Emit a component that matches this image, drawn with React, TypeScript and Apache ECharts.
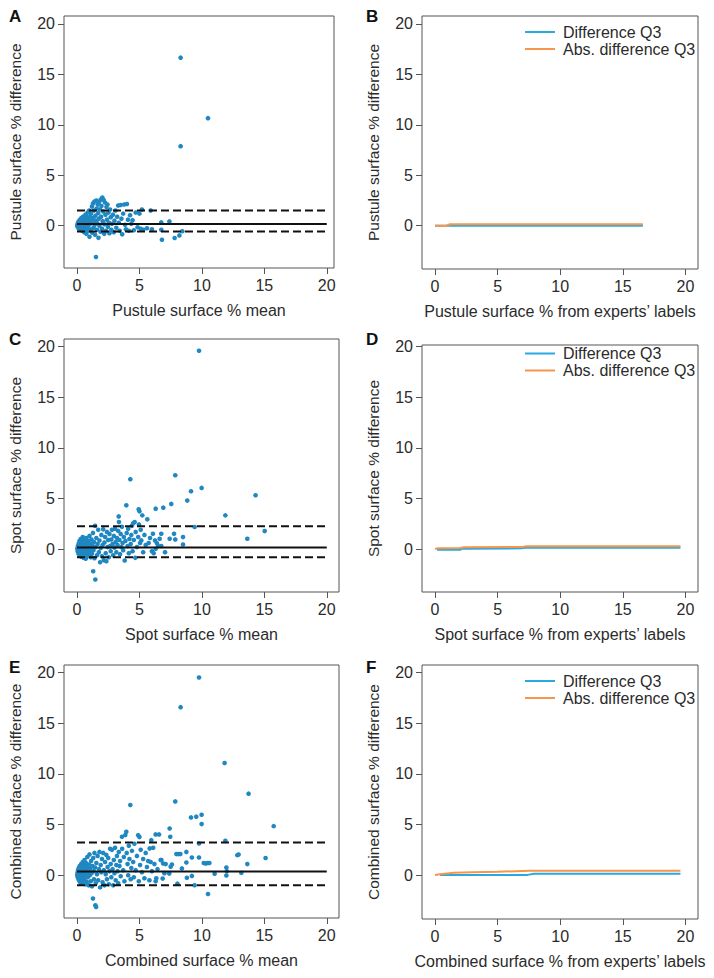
import React, { useEffect, useRef } from "react";
import * as echarts from "echarts";

// ---------------- DATA ----------------
const panelLetters = ["A", "B", "C", "D", "E", "F"];
const xTitles = [
  "Pustule surface % mean",
  "Pustule surface % from experts\u2019 labels",
  "Spot surface % mean",
  "Spot surface % from experts\u2019 labels",
  "Combined surface % mean",
  "Combined surface % from experts\u2019 labels",
];
const yTitles = [
  "Pustule surface % difference",
  "Pustule surface % difference",
  "Spot surface % difference",
  "Spot surface % difference",
  "Combined surface % difference",
  "Combined surface % difference",
];
const tickValues = [0, 5, 10, 15, 20];
const refLineSpan = [0, 20];
const legendNames = ["Difference Q3", "Abs. difference Q3"];

// Bland-Altman: [mean, upper limit, lower limit]
const limitsA = [0.17, 1.52, -0.56];
const limitsC = [0.17, 2.25, -0.79];
const limitsE = [0.37, 3.23, -0.99];

const scatterA = [
  [0.02,0.0],[0.05,0.15],[0.06,-0.1],[0.08,0.3],[0.1,0.05],[0.12,-0.25],[0.14,0.45],[0.16,0.1],[0.18,-0.05],[0.2,0.25],
  [0.22,-0.4],[0.24,0.6],[0.26,0.0],[0.28,0.2],[0.3,-0.15],[0.32,0.4],[0.34,0.75],[0.36,-0.3],[0.38,0.1],[0.4,0.55],
  [0.42,-0.5],[0.44,0.3],[0.46,0.0],[0.48,0.9],[0.5,-0.2],[0.52,0.45],[0.55,0.15],[0.58,-0.65],[0.6,0.7],[0.62,0.25],
  [0.65,-0.35],[0.68,1.1],[0.7,0.05],[0.72,0.5],[0.75,-0.8],[0.78,0.3],[0.8,0.85],[0.83,-0.15],[0.86,1.3],[0.88,0.4],
  [0.9,-0.5],[0.93,0.65],[0.96,0.1],[0.98,1.5],[1.0,-1.1],[1.03,0.9],[1.06,0.2],[1.1,-0.35],[1.12,1.2],[1.15,0.55],
  [1.2,1.9],[1.22,-0.7],[1.25,0.35],[1.28,2.2],[1.3,0.8],[1.33,-0.2],[1.36,1.5],[1.4,2.4],[1.42,0.1],[1.45,-0.9],
  [1.48,1.0],[1.5,0.5],[1.52,-3.1],[1.55,2.5],[1.58,1.7],[1.6,-0.4],[1.63,0.25],[1.66,2.1],[1.7,1.25],[1.72,-1.2],
  [1.75,0.7],[1.78,2.35],[1.8,0.0],[1.84,1.6],[1.88,-0.6],[1.9,2.6],[1.93,0.9],[1.96,1.95],[2.0,-0.3],[2.03,2.8],
  [2.06,0.45],[2.1,1.4],[2.14,2.55],[2.18,-0.8],[2.2,0.15],[2.24,2.3],[2.28,1.1],[2.32,-0.5],[2.36,1.85],[2.4,0.6],
  [2.44,2.1],[2.48,-0.1],[2.52,1.3],[2.56,0.3],[2.6,-0.75],[2.65,1.6],[2.7,0.85],[2.75,-0.4],[2.8,0.2],[2.88,1.1],
  [2.95,-0.65],[3.0,0.5],[3.08,1.5],[3.15,-0.2],[3.22,0.9],[3.3,2.0],[3.35,0.3],[3.42,-0.5],[3.5,2.05],[3.56,0.7],
  [3.62,-0.85],[3.7,1.2],[3.78,2.1],[3.85,0.1],[3.92,-0.35],[4.0,2.15],[4.08,0.6],[4.15,-0.5],[4.25,1.05],[4.35,0.2],
  [4.45,0.55],[4.55,-0.45],[4.7,1.3],[4.85,-0.15],[5.0,1.2],[5.1,-0.3],[5.2,1.6],[5.3,-0.4],[5.6,-0.25],[5.9,1.5],
  [6.0,-0.35],[6.75,0.33],[6.75,-0.4],[6.8,-1.39],[7.4,0.43],[7.82,-1.22],[8.2,-0.96],[8.43,-0.55],[8.3,16.66],[8.3,7.89],
  [10.49,10.66],
];

const scatterC = [
  [0.02,0.05],[0.05,-0.2],[0.07,0.3],[0.1,0.0],[0.12,-0.45],[0.14,0.55],[0.16,0.15],[0.18,-0.1],[0.2,0.8],[0.22,-0.6],
  [0.24,0.35],[0.26,0.05],[0.28,-0.3],[0.3,1.0],[0.32,0.2],[0.34,-0.75],[0.36,0.5],[0.38,-0.05],[0.4,0.7],[0.42,-0.4],
  [0.44,0.25],[0.46,1.2],[0.48,-0.15],[0.5,0.45],[0.52,-0.85],[0.55,0.1],[0.58,0.9],[0.6,-0.5],[0.62,0.3],[0.65,-0.2],
  [0.68,0.65],[0.7,-0.95],[0.72,0.15],[0.75,1.1],[0.78,-0.35],[0.8,0.4],[0.83,-0.7],[0.86,0.0],[0.9,0.8],[0.93,-0.5],
  [0.96,0.25],[1.0,1.3],[1.03,-0.25],[1.06,0.55],[1.1,-0.8],[1.13,0.1],[1.16,0.95],[1.2,-0.45],[1.24,0.35],[1.28,1.6],
  [1.3,-2.18],[1.32,-0.1],[1.36,0.7],[1.4,-0.9],[1.45,2.3],[1.47,-3.0],[1.5,0.2],[1.55,1.1],[1.6,-0.6],[1.65,0.5],
  [1.7,1.9],[1.75,-0.3],[1.8,0.85],[1.85,-1.3],[1.9,0.1],[1.95,1.4],[2.0,-0.7],[2.05,0.4],[2.1,1.95],[2.15,-1.1],
  [2.2,0.65],[2.25,1.2],[2.3,-0.4],[2.35,-1.19],[2.4,1.7],[2.45,0.2],[2.5,0.9],[2.55,-0.8],[2.6,1.5],[2.65,0.3],
  [2.7,-0.2],[2.75,0.95],[2.8,1.9],[2.85,0.5],[2.9,-0.6],[2.95,1.3],[3.0,0.15],[3.05,2.0],[3.1,0.7],[3.15,-0.3],
  [3.2,1.1],[3.25,0.4],[3.3,1.8],[3.34,3.23],[3.36,2.67],[3.4,0.9],[3.45,-0.5],[3.5,1.5],[3.55,0.2],[3.6,2.2],
  [3.65,0.6],[3.7,-0.1],[3.75,1.2],[3.82,-1.12],[3.88,0.8],[3.95,4.32],[3.98,1.6],[4.05,0.3],[4.1,2.0],[4.15,-0.4],
  [4.2,1.0],[4.27,6.9],[4.3,0.5],[4.35,1.4],[4.4,2.3],[4.45,-0.2],[4.5,2.55],[4.55,0.9],[4.62,2.67],[4.67,-0.86],
  [4.7,1.7],[4.8,0.2],[4.9,1.2],[4.94,3.93],[4.96,2.44],[5.0,3.73],[5.05,0.6],[5.1,1.9],[5.15,0.86],[5.23,3.33],
  [5.3,-0.3],[5.4,1.4],[5.5,0.4],[5.63,2.94],[5.74,0.6],[5.85,1.1],[6.0,-0.2],[6.08,1.52],[6.14,-0.4],[6.25,0.86],
  [6.3,3.99],[6.3,0.04],[6.4,0.57],[6.5,0.3],[6.62,1.02],[6.75,1.52],[6.75,0.3],[6.91,4.09],[7.05,-0.3],[7.42,1.02],
  [7.55,4.46],[7.77,1.52],[7.87,7.29],[7.87,0.96],[8.49,1.19],[8.49,0.46],[8.83,4.79],[9.13,5.71],[9.42,2.18],[9.77,19.57],
  [9.98,6.04],[11.88,3.33],[13.64,1.02],[14.3,5.31],[15.03,1.78],
];

const scatterE = [
  [0.02,0.0],[0.04,0.25],[0.06,-0.2],[0.08,0.5],[0.1,0.1],[0.12,-0.4],[0.14,0.7],[0.16,-0.05],[0.18,0.3],[0.2,-0.6],
  [0.22,0.9],[0.24,0.15],[0.26,-0.25],[0.28,0.55],[0.3,-0.8],[0.32,0.35],[0.34,1.1],[0.36,0.0],[0.38,-0.45],[0.4,0.75],
  [0.42,0.2],[0.44,-0.7],[0.46,1.3],[0.48,0.4],[0.5,-0.1],[0.52,0.95],[0.55,-0.55],[0.58,0.25],[0.6,1.5],[0.62,-0.3],
  [0.65,0.6],[0.68,-0.9],[0.7,0.1],[0.72,1.2],[0.75,0.45],[0.78,-0.65],[0.8,0.8],[0.83,1.8],[0.86,-0.2],[0.9,0.35],
  [0.93,-1.0],[0.96,1.05],[1.0,2.05],[1.03,0.0],[1.06,0.65],[1.1,-0.6],[1.13,1.4],[1.16,0.2],[1.2,-1.1],[1.24,0.9],
  [1.28,-2.3],[1.3,1.7],[1.33,0.4],[1.36,-0.4],[1.4,2.2],[1.44,0.75],[1.47,-2.97],[1.5,-0.8],[1.53,-3.13],[1.55,1.2],
  [1.6,0.1],[1.65,1.9],[1.7,-0.5],[1.75,0.6],[1.8,2.3],[1.85,-1.2],[1.9,1.0],[1.95,0.3],[2.0,1.6],[2.05,-0.7],
  [2.1,2.2],[2.15,0.5],[2.2,-1.0],[2.25,1.3],[2.3,0.1],[2.35,2.0],[2.4,-0.4],[2.45,0.8],[2.5,1.7],[2.55,-0.9],
  [2.6,0.4],[2.65,2.6],[2.7,1.1],[2.75,-0.2],[2.8,2.5],[2.85,0.6],[2.9,-1.0],[2.95,1.5],[3.0,0.2],[3.05,2.7],
  [3.1,-0.5],[3.15,1.0],[3.2,1.9],[3.25,0.4],[3.3,-0.8],[3.35,2.3],[3.4,0.9],[3.45,1.4],[3.5,-0.1],[3.6,3.79],
  [3.62,2.6],[3.7,0.5],[3.75,1.8],[3.8,-0.6],[3.87,3.96],[3.95,4.28],[3.98,2.2],[4.05,1.1],[4.1,0.0],[4.15,2.9],
  [4.2,1.6],[4.27,6.92],[4.3,-0.4],[4.35,0.7],[4.4,2.4],[4.5,1.3],[4.55,-0.2],[4.6,3.1],[4.7,0.5],[4.8,1.9],
  [4.9,3.95],[4.95,-0.6],[5.0,3.76],[5.05,1.0],[5.1,2.5],[5.2,0.3],[5.3,1.6],[5.4,-0.3],[5.5,2.2],[5.6,0.8],
  [5.7,1.4],[5.8,-0.5],[5.82,2.64],[5.9,1.3],[5.95,3.46],[6.0,0.4],[6.1,2.7],[6.2,1.1],[6.3,4.02],[6.3,-0.6],
  [6.35,-0.3],[6.45,0.6],[6.57,4.02],[6.7,1.5],[6.76,1.5],[6.86,-0.33],[6.9,1.15],[7.0,0.2],[7.1,1.1],[7.39,0.16],
  [7.42,4.61],[7.47,3.79],[7.5,0.84],[7.6,1.06],[7.87,7.28],[7.96,2.08],[8.04,-0.83],[8.12,2.08],[8.28,2.08],[8.3,16.57],
  [8.4,0.67],[8.76,2.3],[8.76,1.25],[8.8,-0.26],[9.13,5.7],[9.2,1.75],[9.2,-0.07],[9.42,-0.99],[9.55,5.77],[9.77,19.5],
  [9.77,3.13],[9.77,1.75],[9.98,5.96],[9.98,5.04],[10.15,1.2],[10.3,1.15],[10.45,1.2],[10.49,-1.85],[10.6,1.2],[11.02,0.14],
  [11.82,11.07],[11.88,3.39],[11.96,0.76],[11.96,-0.03],[12.0,0.4],[12.84,1.98],[12.94,2.04],[13.16,0.23],[13.64,1.1],[13.74,8.04],
  [15.1,1.7],[15.75,4.84],
];

// Right panels: Q3 curves vs. experts' surface %
const diffQ3B = [[0, 0.0], [0.9, 0.0], [16.6, 0.0]];
const absDiffQ3B = [[0, 0.0], [0.9, 0.0], [1.2, 0.15], [16.6, 0.15]];
const diffQ3D = [[0.15, -0.06], [2.0, -0.06], [2.2, 0.05], [6.9, 0.08], [7.2, 0.15], [19.6, 0.15]];
const absDiffQ3D = [[0, 0.0], [0.2, 0.1], [2.0, 0.12], [2.3, 0.2], [7.0, 0.22], [7.3, 0.3], [19.6, 0.3]];
const diffQ3F = [[0.4, 0.02], [7.4, 0.03], [7.9, 0.15], [19.6, 0.15]];
const absDiffQ3F = [[0, 0.03], [0.4, 0.1], [1.5, 0.25], [3.0, 0.3], [5.0, 0.35], [7.6, 0.43], [19.6, 0.43]];

// ---------------- LAYOUT / STYLE ----------------
const FONT = "'Liberation Sans', Arial, Helvetica, sans-serif";
const TEXT = "#2b2b2b";
const BOX = "#555";
const DOT = "#1f87c1";
const BLUE = "#29a9e1";
const ORANGE = "#f7964a";

const grids = [
  { left: 64, top: 16, width: 270, height: 252 },
  { left: 422, top: 16, width: 276, height: 253 },
  { left: 64, top: 339, width: 275, height: 253 },
  { left: 422, top: 345, width: 276, height: 247 },
  { left: 64, top: 665, width: 275, height: 253 },
  { left: 422, top: 665, width: 276, height: 254 },
];
const xRanges = [[-1.04, 20.58], [-1.04, 21.0], [-1.04, 20.98], [-1.04, 21.0], [-1.04, 20.98], [-1.04, 21.0]];
const yRanges = [[-4.19, 20.79], [-4.29, 20.79], [-4.23, 20.73], [-4.23, 20.17], [-4.22, 20.73], [-4.32, 20.73]];
const letterPos = [[9, 8], [366, 8], [9, 331], [366, 331], [9, 659], [366, 659]];
const legendTops = [19, 340.5, 668];

function buildOption() {
  const grid = grids.map((g) => ({
    ...g,
    show: true,
    borderColor: BOX,
    borderWidth: 1,
    backgroundColor: "transparent",
    containLabel: false,
  }));

  const xAxis = grids.map((_, i) => ({
    type: "value",
    gridIndex: i,
    min: xRanges[i][0],
    max: xRanges[i][1],
    axisLine: { show: false, onZero: false },
    axisTick: { show: true, length: 6, lineStyle: { color: BOX }, customValues: tickValues },
    axisLabel: { customValues: tickValues, fontSize: 16, color: TEXT, margin: 9, fontFamily: FONT },
    splitLine: { show: false },
    name: xTitles[i],
    nameLocation: "middle",
    nameGap: 34,
    nameTextStyle: { fontSize: 16, color: TEXT, fontFamily: FONT },
  }));

  const yAxis = grids.map((_, i) => ({
    type: "value",
    gridIndex: i,
    min: yRanges[i][0],
    max: yRanges[i][1],
    axisLine: { show: false, onZero: false },
    axisTick: { show: true, length: 6, lineStyle: { color: BOX }, customValues: tickValues },
    axisLabel: { customValues: tickValues, fontSize: 16, color: TEXT, margin: 9, fontFamily: FONT },
    splitLine: { show: false },
    name: yTitles[i],
    nameLocation: "middle",
    nameGap: 41,
    nameTextStyle: { fontSize: 15.5, color: TEXT, fontFamily: FONT },
  }));

  const series: any[] = [];
  const scatterPanels: [number, number[][], number[]][] = [
    [0, scatterA, limitsA],
    [2, scatterC, limitsC],
    [4, scatterE, limitsE],
  ];
  scatterPanels.forEach(([gi, pts, lim]) => {
    series.push({
      type: "scatter",
      xAxisIndex: gi,
      yAxisIndex: gi,
      data: pts,
      symbolSize: 4.6,
      itemStyle: { color: DOT, opacity: 1 },
      silent: true,
      z: 2,
    });
    lim.forEach((v, k) => {
      series.push({
        type: "line",
        xAxisIndex: gi,
        yAxisIndex: gi,
        data: refLineSpan.map((x) => [x, v]),
        symbol: "none",
        silent: true,
        lineStyle: { color: "#111", width: 2, type: k === 0 ? "solid" : [8, 4] },
        z: 3,
      });
    });
  });

  const q3Panels: [number, number[][], number[][]][] = [
    [1, diffQ3B, absDiffQ3B],
    [3, diffQ3D, absDiffQ3D],
    [5, diffQ3F, absDiffQ3F],
  ];
  q3Panels.forEach(([gi, d, a]) => {
    series.push({
      type: "line",
      name: legendNames[0],
      xAxisIndex: gi,
      yAxisIndex: gi,
      data: d,
      symbol: "none",
      color: BLUE,
      itemStyle: { color: BLUE },
      lineStyle: { color: BLUE, width: 2 },
      z: 3,
    });
    series.push({
      type: "line",
      name: legendNames[1],
      xAxisIndex: gi,
      yAxisIndex: gi,
      data: a,
      symbol: "none",
      color: ORANGE,
      itemStyle: { color: ORANGE },
      lineStyle: { color: ORANGE, width: 2 },
      z: 4,
    });
  });

  const legend = legendTops.map((top) => ({
    data: legendNames,
    orient: "vertical",
    left: 520,
    top,
    icon: "rect",
    itemWidth: 30,
    itemHeight: 2,
    itemGap: 1,
    selectedMode: false,
    textStyle: { fontSize: 16, color: TEXT, fontFamily: FONT, lineHeight: 16, padding: [0, 0, 0, 3] },
  }));

  const graphic = panelLetters.map((t, i) => ({
    type: "text",
    left: letterPos[i][0],
    top: letterPos[i][1],
    style: { text: t, fill: "#111", font: `bold 17px ${FONT}` },
    silent: true,
  }));

  return {
    animation: false,
    backgroundColor: "#ffffff",
    textStyle: { fontFamily: FONT },
    grid,
    xAxis,
    yAxis,
    series,
    legend,
    graphic,
  };
}

export default function App() {
  const ref = useRef<HTMLDivElement>(null);
  useEffect(() => {
    document.body.style.margin = "0";
    if (!ref.current) return;
    const chart = echarts.init(ref.current, undefined, { renderer: "svg" });
    chart.setOption(buildOption() as any);
    return () => chart.dispose();
  }, []);
  return <div ref={ref} style={{ width: 714, height: 978 }} />;
}
